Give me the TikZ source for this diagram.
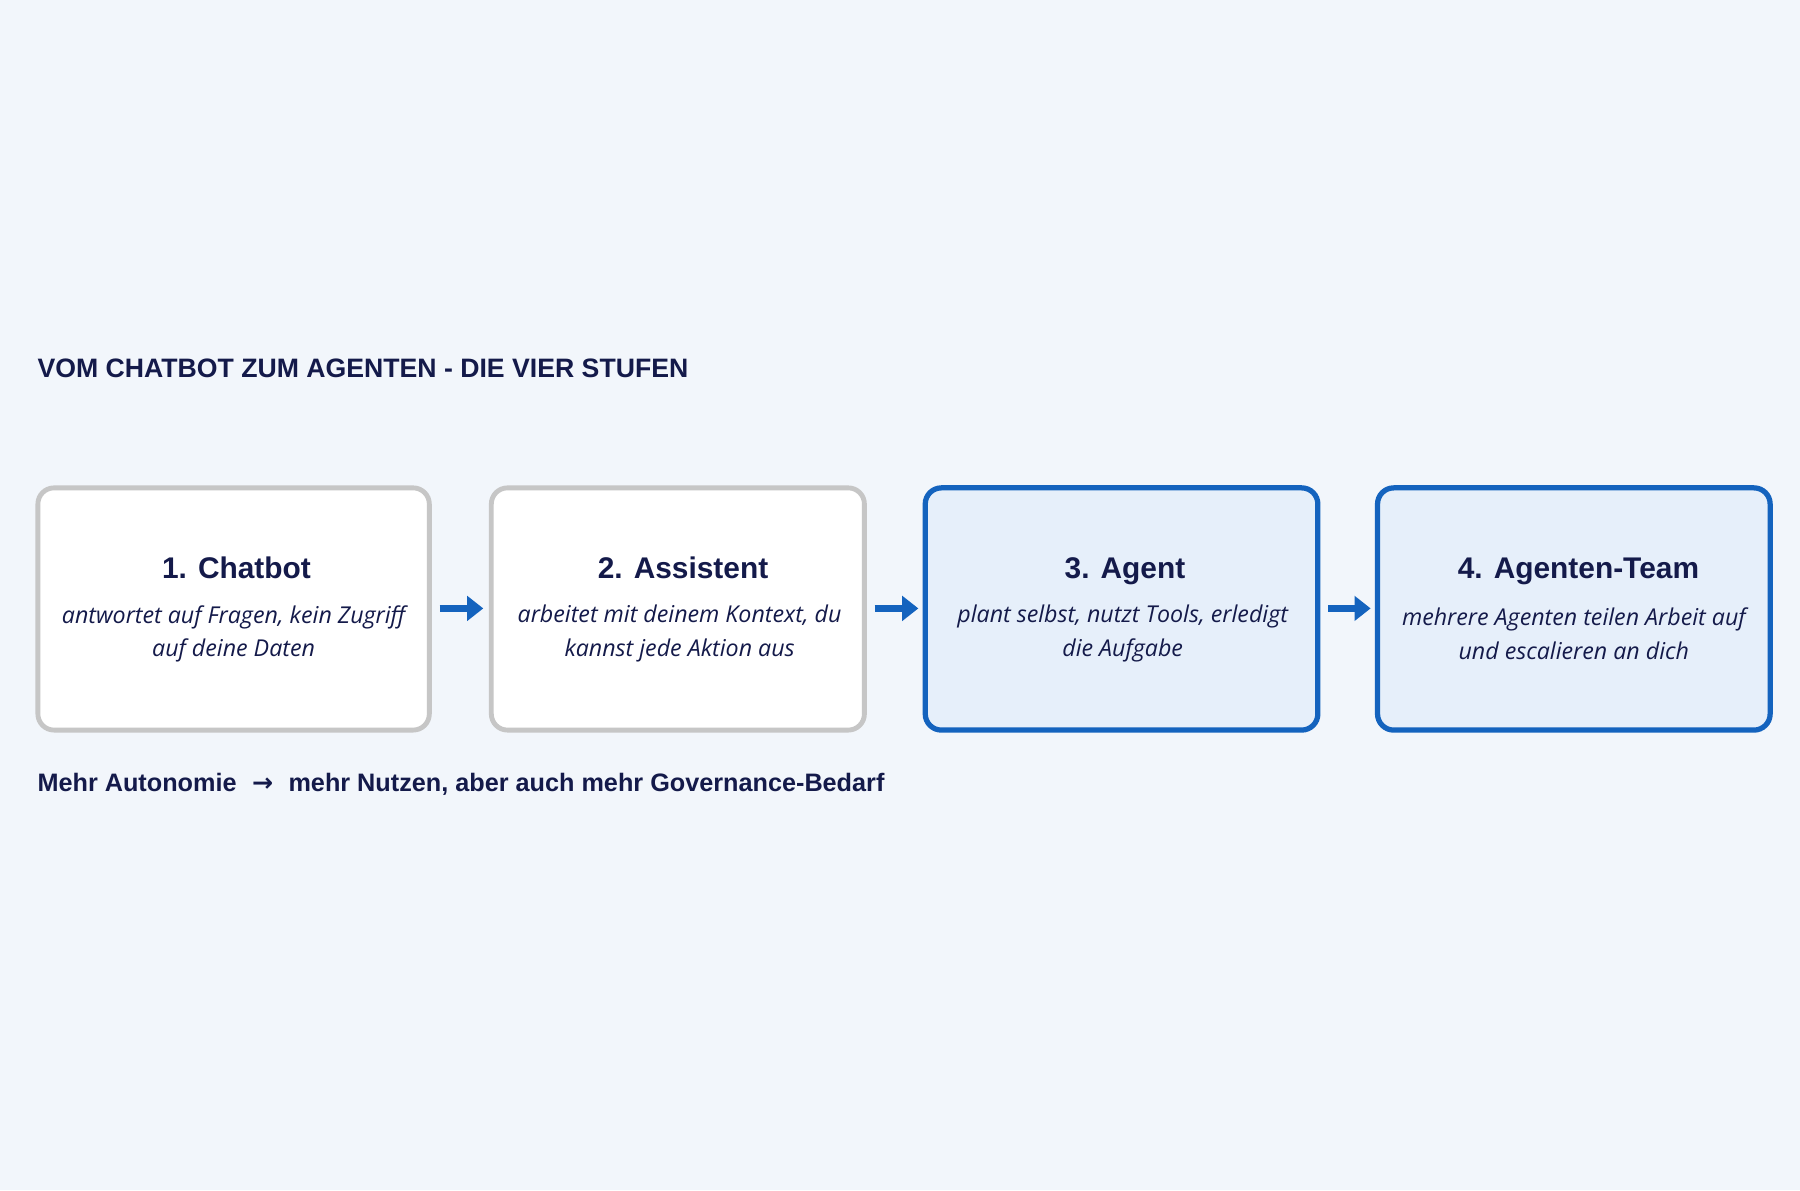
\documentclass[tikz,border=0pt]{standalone}
\usepackage{fontspec}
\setmainfont{Liberation Sans}
\newfontfamily\bodyfont{Open Sans}
\usetikzlibrary{arrows.meta}
\definecolor{bg}{HTML}{F2F6FB}
\definecolor{navy}{HTML}{141A4A}
\definecolor{blu}{HTML}{1463BE}
\definecolor{lblue}{HTML}{E6EFFA}
\definecolor{gry}{HTML}{C6C6C6}
\begin{document}
\begin{tikzpicture}[x=0.01cm,y=-0.01cm,
 box/.style={draw=gry,line width=1.2pt,fill=white,rounded corners=4pt},
 bbox/.style={draw=blu,line width=1.3pt,fill=lblue,rounded corners=4pt},
 head/.style={text=navy,anchor=base,inner sep=0pt,font=\fontsize{7.4}{9}\selectfont\bfseries},
 body/.style={text=navy,font=\bodyfont\itshape\fontsize{5.75}{8.3}\selectfont,align=center},
 arr/.style={blu,line width=1.6pt,-{Triangle[length=4pt,width=6pt]}}]
\fill[bg] (0,0) rectangle (1568,1037);
\useasboundingbox (0,0) rectangle (1568,1037);
\node[anchor=west,inner sep=0pt,text=navy,font=\fontsize{6.6}{8}\selectfont\bfseries] (title) at (32,321) {VOM CHATBOT ZUM AGENTEN - DIE VIER STUFEN};
\draw[box] (33,425) rectangle (374,636); \coordinate (b1) at (203.5,530);
\draw[box] (428,425) rectangle (753,636); \coordinate (b2) at (590.5,530);
\draw[bbox] (806,425) rectangle (1148,636); \coordinate (b3) at (977,530);
\draw[bbox] (1200,425) rectangle (1542,636); \coordinate (b4) at (1371,530);
\node[head] (h1) at (206,504) {1. Chatbot};
\node[body] (t1) at (203.5,552) {antwortet auf Fragen, kein Zugriff\\auf deine Daten};
\node[head] (h2) at (595,504) {2. Assistent};
\node[body] (t2) at (592,552) {arbeitet mit deinem Kontext, du\\kannst jede Aktion aus};
\node[head] (h3) at (980,504) {3. Agent};
\node[body] (t3) at (978,552) {plant selbst, nutzt Tools, erledigt\\die Aufgabe};
\node[head] (h4) at (1375,504) {4. Agenten-Team};
\node[body] (t4) at (1371,552) {mehrere Agenten teilen Arbeit auf\\und escalieren an dich};
\coordinate (a1s) at (383,530); \coordinate (a1e) at (421,530);
\coordinate (a2s) at (762,530); \coordinate (a2e) at (800,530);
\coordinate (a3s) at (1157,530); \coordinate (a3e) at (1194,530);
\draw[arr] (a1s) -- (a1e);
\draw[arr] (a2s) -- (a2e);
\draw[arr] (a3s) -- (a3e);
\node[anchor=west,inner sep=0pt,text=navy,font=\fontsize{6.25}{8}\selectfont\bfseries] (foot) at (32,683) {Mehr Autonomie \,\,{\fontspec{DejaVu Sans}\bfseries →}\,\, mehr Nutzen, aber auch mehr Governance-Bedarf};
\end{tikzpicture}
\end{document}
